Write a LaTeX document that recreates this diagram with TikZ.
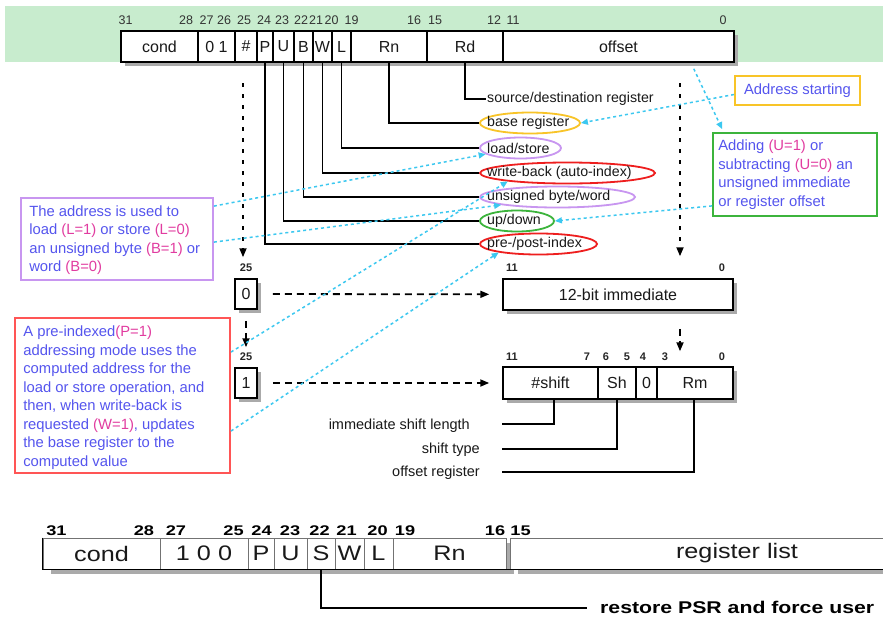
\documentclass[tikz,border=0pt]{standalone}
\usepackage{fontspec}
\setmainfont{Liberation Sans}
\usetikzlibrary{shapes.geometric,arrows.meta,calc}
\definecolor{band}{RGB}{200,236,206}
\definecolor{annblue}{RGB}{85,85,238}
\definecolor{annmag}{RGB}{225,60,160}
\definecolor{cyanln}{RGB}{60,200,240}
\definecolor{ylw}{RGB}{248,196,40}
\definecolor{purp}{RGB}{200,150,240}
\definecolor{redc}{RGB}{238,30,30}
\definecolor{redbox}{RGB}{255,85,85}
\definecolor{grn}{RGB}{60,180,60}
\definecolor{shadowc}{RGB}{170,170,170}
\newcommand{\mg}[1]{\textcolor{annmag}{#1}}
\newcommand{\wideA}[1]{\scalebox{1.2}[1]{#1}}
\newcommand{\wideB}[1]{\scalebox{1.3}[1]{#1}}
\begin{document}
\begin{tikzpicture}[x=1pt,y=-1pt,
  shad/.style={preaction={fill=shadowc, transform canvas={xshift=4pt,yshift=-4pt}}},
  fld/.style={draw=black, line width=1.5pt, fill=white, inner sep=0pt, minimum height=31pt, text=black!90, font=\fontsize{16}{16}\selectfont, shad},
  fldb/.style={draw=black!55, line width=0.8pt, fill=white, inner sep=0pt, minimum height=31pt, text=black!90, font=\fontsize{21}{21}\selectfont, preaction={fill=shadowc, transform canvas={xshift=8pt,yshift=-5pt}}},
  sbox/.style={draw=black, line width=1.5pt, fill=white, inner sep=0pt, text=black!90, font=\fontsize{16}{16}\selectfont, shad},
  bitn/.style={inner sep=0pt, text=black!80, font=\fontsize{12.5}{12.5}\selectfont},
  bitb/.style={inner sep=0pt, text=black!85, font=\fontsize{11}{11}\selectfont\bfseries},
  bitc/.style={inner sep=0pt, text=black, font=\fontsize{14}{14}\selectfont\bfseries},
  lbl/.style={inner sep=1pt, anchor=west, text=black!90, font=\fontsize{14.2}{14.2}\selectfont},
  lblr/.style={inner sep=1pt, anchor=east, text=black!90, font=\fontsize{14.5}{14.5}\selectfont},
  ell/.style={ellipse, line width=1.8pt, inner sep=0pt, minimum height=21pt},
  conn/.style={draw=black, line width=1.6pt},
  dasharr/.style={draw=black, line width=1.8pt, dash pattern=on 7pt off 5pt, -{Triangle[length=9pt,width=7pt]}},
  dotarr/.style={draw=black, line width=1.8pt, dash pattern=on 4pt off 7pt, -{Triangle[length=9pt,width=7pt]}},
  cy/.style={draw=cyanln, line width=1.5pt, dash pattern=on 3pt off 3pt, -{Triangle[length=7pt,width=6pt]}},
  ann/.style={inner sep=0pt, align=left, text=annblue, font=\fontsize{14.8}{18.5}\selectfont},
  abox/.style={line width=1.8pt, inner sep=0pt, fill=white}
]
\useasboundingbox (0,0) rectangle (883,616);
\fill[white] (0,0) rectangle (883,616);
% green band
\fill[band] (5,6) rectangle (883,62);

% top register
\node[fld, minimum width=77pt] (cond) at (159.5,46.5) {cond};
\node[fld, minimum width=37pt] (f01) at (216.5,46.5) {0 1};
\node[fld, minimum width=22pt] (hash) at (246,46.5) {\#};
\node[fld, minimum width=16pt] (P) at (265,46.5) {P};
\node[fld, minimum width=21pt] (U) at (283.5,46.5) {U};
\node[fld, minimum width=19pt] (B) at (303.5,46.5) {B};
\node[fld, minimum width=19pt] (W) at (322.5,46.5) {W};
\node[fld, minimum width=19pt] (L) at (341.5,46.5) {L};
\node[fld, minimum width=76pt] (Rn) at (389,46.5) {Rn};
\node[fld, minimum width=76pt] (Rd) at (465,46.5) {Rd};
\node[fld, minimum width=231pt] (offset) at (618.5,46.5) {offset};

\node[bitn] (t31) at (125.5,20) {31};
\node[bitn] (t28) at (186,20) {28};
\node[bitn] (t27) at (206.5,20) {27};
\node[bitn] (t26) at (224,20) {26};
\node[bitn] (t25) at (244,20) {25};
\node[bitn] (t24) at (264,20) {24};
\node[bitn] (t23) at (282,20) {23};
\node[bitn] (t22) at (301,20) {22};
\node[bitn] (t21) at (316,20) {21};
\node[bitn] (t20) at (331.5,20) {20};
\node[bitn] (t19) at (351.5,20) {19};
\node[bitn] (t16) at (414,20) {16};
\node[bitn] (t15) at (435,20) {15};
\node[bitn] (t12) at (494,20) {12};
\node[bitn] (t11) at (513,20) {11};
\node[bitn] (t0) at (723,20) {0};

% ellipses and labels
\node[ell, draw=ylw, minimum width=100pt] (base) at (530,123) {};
\node[ell, draw=purp, minimum width=81pt] (ls) at (520.5,148) {};
\node[ell, draw=redc, minimum width=175pt] (wb) at (567.5,173) {};
\node[ell, draw=purp, minimum width=155pt] (un) at (557.5,197) {};
\node[ell, draw=grn, minimum width=74pt] (ud) at (517,221) {};
\node[ell, draw=redc, minimum width=117pt] (pp) at (538.5,244) {};

\node[lbl] (sdr) at (486,99) {source/destination register};
\node[lbl] (tbase) at (486,123) {base register};
\node[lbl] (tls) at (486,148) {load/store};
\node[lbl] (twb) at (486,173) {write-back (auto-index)};
\node[lbl] (tun) at (486,197) {unsigned byte/word};
\node[lbl] (tud) at (486,221) {up/down};
\node[lbl] (tpp) at (486,244) {pre-/post-index};

% black connectors from fields
\draw[conn] (P.south) |- (pp.west);
\draw[conn] (U.south) |- (ud.west);
\draw[conn] (B.south) |- (un.west);
\draw[conn] (W.south) |- (wb.west);
\draw[conn] (L.south) |- (ls.west);
\draw[conn] (Rn.south) |- (base.west);
\draw[conn] (Rd.south) |- (sdr.west);

% offset forms
\node[sbox, minimum width=22pt, minimum height=30pt] (b0) at (246,294) {0};
\node[sbox, minimum width=22pt, minimum height=30pt] (b1) at (246,383) {1};
\node[bitb] (n25a) at (246,268) {25};
\node[bitb] (n25b) at (246,357) {25};

\node[sbox, minimum width=230pt, minimum height=31pt] (imm) at (618,294.5) {12-bit immediate};
\node[bitb] (i11) at (512,268) {11};
\node[bitb] (i0) at (722,268) {0};

\node[sbox, minimum width=95pt, minimum height=32pt] (shft) at (550.5,383) {\#shift};
\node[sbox, minimum width=38pt, minimum height=32pt] (sh) at (617,383) {Sh};
\node[sbox, minimum width=21pt, minimum height=32pt] (z0) at (646.5,383) {0};
\node[sbox, minimum width=76pt, minimum height=32pt] (rm) at (695,383) {Rm};
\node[bitb] (s11) at (512,357) {11};
\node[bitb] (s7) at (587,357) {7};
\node[bitb] (s6) at (606,357) {6};
\node[bitb] (s5) at (627,357) {5};
\node[bitb] (s4) at (643,357) {4};
\node[bitb] (s3) at (665,357) {3};
\node[bitb] (s0) at (722,357) {0};

\node[lblr] (isl) at (471,426) {immediate shift length};
\node[lblr] (stype) at (481,450) {shift type};
\node[lblr] (oreg) at (481,473) {offset register};
\draw[conn] ($(shft.south)+(3.5,0)$) |- ($(shft.west |- isl.east)+(0,-2)$);
\draw[conn] (sh.south) |- ($(shft.west |- stype.east)+(0,-1)$);
\draw[conn] ($(rm.south)+(-1,0)$) |- ($(shft.west |- oreg.east)+(0,-1)$);

% dashed arrows
\coordinate (dA1) at (243,83);
\coordinate (dB1) at (680,83);
\draw[dotarr, shorten >=21pt] (dA1) -- (dA1 |- b0.north);
\draw[dotarr, shorten >=22pt] (dB1) -- (dB1 |- imm.north);
\draw[dasharr, shorten <=11pt, shorten >=20pt] (b0.south) -- (b1.north);
\draw[dasharr, shorten <=18pt, shorten >=15pt] (dB1 |- imm.south) -- (dB1 |- shft.north);
\draw[dasharr, shorten <=15pt, shorten >=13pt] (b0) -- (imm);
\draw[dasharr, shorten <=15pt, shorten >=13pt] (b1) -- (shft);

% annotation boxes
\node[abox, draw=ylw, minimum width=125pt, minimum height=29pt] (addr) at (797.5,90.5) {};
\node[ann] (taddr) at (addr) {Address starting};

\node[abox, draw=grn, minimum width=164pt, minimum height=83pt] (addbox) at (795,174.5) {};
\node[ann, anchor=west] (tadd) at ($(addbox.west)+(6,0)$) {Adding \mg{(U=1)} or\\subtracting \mg{(U=0)} an\\unsigned immediate\\or register offset};

\node[abox, draw=purp, minimum width=192pt, minimum height=82pt] (ldbox) at (117,239) {};
\node[ann, anchor=west] (tld) at ($(ldbox.west)+(9,1)$) {The address is used to\\load \mg{(L=1)} or store \mg{(L=0)}\\an unsigned byte \mg{(B=1)} or\\word \mg{(B=0)}};

\node[abox, draw=redbox, minimum width=215pt, minimum height=155pt] (prebox) at (122.5,395.5) {};
\node[ann, anchor=west] (tpre) at ($(prebox.west)+(9,2)$) {A pre-indexed\mg{(P=1)}\\addressing mode uses the\\computed address for the\\load or store operation, and\\then, when write-back is\\requested \mg{(W=1)}, updates\\the base register to the\\computed value};

% cyan arrows
\draw[cy] ($(addr.west)+(0,4)$) -- (base.east);
\draw[cy] ($(offset.south east)+(-41,6)$) -- ($(addbox.north west)+(10,-3)$);
\draw[cy] ($(addbox.south west)+(0,-11)$) -- (ud.east);
\draw[cy] ($(ldbox.north east)+(0,9)$) -- (ls.190);
\draw[cy] ($(ldbox.north east)+(0,45)$) -- (un.188);
\draw[cy] ($(prebox.north east)+(0,35)$) -- (wb.188);
\draw[cy] ($(prebox.north east)+(0,114)$) -- (pp.192);

% bottom register
\node[fldb, minimum width=117pt] (bcond) at (101.5,553.5) {\wideA{cond}};
\node[fldb, minimum width=88pt] (b100) at (204,553.5) {\wideA{1\hspace{6pt}0\hspace{6pt}0}};
\node[fldb, minimum width=26pt] (bP) at (261,553.5) {\wideA{P}};
\node[fldb, minimum width=33pt] (bU) at (290.5,553.5) {\wideA{U}};
\node[fldb, minimum width=28pt] (bS) at (321,553.5) {\wideA{S}};
\node[fldb, minimum width=29pt] (bW) at (349.5,553.5) {\wideA{W}};
\node[fldb, minimum width=29pt] (bL) at (378.5,553.5) {\wideA{L}};
\node[fldb, minimum width=113pt] (bRn) at (449.5,553.5) {\wideA{Rn}};
\node[fldb, minimum width=380pt] (breg) at (700,553.5) {};
\node[inner sep=0pt, text=black!90, font=\fontsize{21}{21}\selectfont] (treg) at (737,553.5) {\wideA{register list}};
\draw[line width=1.6pt] (bcond.north west) |- (breg.south east);

\node[bitc] (c31) at (56.5,531) {\wideB{31}};
\node[bitc] (c28) at (144,531) {\wideB{28}};
\node[bitc] (c27) at (176,531) {\wideB{27}};
\node[bitc] (c25) at (233.5,531) {\wideB{25}};
\node[bitc] (c24) at (261.5,531) {\wideB{24}};
\node[bitc] (c23) at (290,531) {\wideB{23}};
\node[bitc] (c22) at (319.5,531) {\wideB{22}};
\node[bitc] (c21) at (346.5,531) {\wideB{21}};
\node[bitc] (c20) at (377.5,531) {\wideB{20}};
\node[bitc] (c19) at (405,531) {\wideB{19}};
\node[bitc] (c16) at (495,531) {\wideB{16}};
\node[bitc] (c15) at (520.5,531) {\wideB{15}};

\node[inner sep=0pt, anchor=west, text=black, font=\fontsize{17}{17}\selectfont\bfseries] (rpsr) at (600,607) {\scalebox{1.25}[1]{restore PSR and force user}};
\draw[conn] (bS.south) |- ($(rpsr.west)+(-13,1)$);
\end{tikzpicture}
\end{document}
